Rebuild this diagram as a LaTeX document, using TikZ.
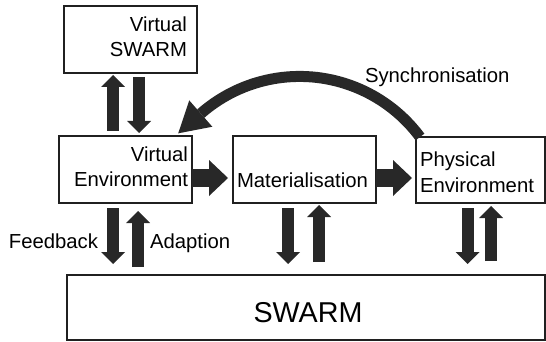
\documentclass[tikz,border=0pt]{standalone}
\usepackage{fontspec}
\setmainfont{Liberation Sans}
\usetikzlibrary{arrows.meta,calc}
\definecolor{ink}{HTML}{202020}
\definecolor{arrowfill}{HTML}{282828}

\begin{document}
\begin{tikzpicture}[x=1pt,y=-1pt,
  box/.style={draw=ink, line width=1.6pt, fill=white, inner sep=0pt, outer sep=0pt},
  lbl/.style={inner sep=0pt, outer sep=0pt, text=black, font=\fontsize{20.3}{25}\selectfont},
  vblock/.style={draw=arrowfill, line width=12pt, -{Triangle[length=12pt,width=24pt,line width=0pt]}},
  hblock/.style={draw=arrowfill, line width=18pt, -{Triangle[length=19pt,width=36pt,line width=0pt]}},
  sync/.style={draw=arrowfill, line width=11pt, shorten >=-30pt, -{Triangle[length=30pt,width=35pt,line width=0pt]}},
]
\useasboundingbox (0,0) rectangle (546,342);

% boxes
\node[box, minimum width=133pt, minimum height=67pt] (vs)    at (130.5,39.5) {};
\node[box, minimum width=133pt, minimum height=67pt] (ve)    at (125.5,169.5) {};
\node[box, minimum width=143pt, minimum height=67pt] (mat)   at (304.5,169.5) {};
\node[box, minimum width=129pt, minimum height=66pt] (phys)  at (480.5,170) {};
\node[box, minimum width=478pt, minimum height=65pt] (swarm) at (306,307.5) {};

% box texts (multi-line nodes are anchored on their last baseline)
\node[lbl, align=right, anchor=base east] (vsT)   at ($(vs.north east)+(-10,51)$) {Virtual\\SWARM};
\node[lbl, align=right, anchor=base east] (veT)   at ($(ve.north east)+(-4,50)$) {Virtual\\Environment};
\node[lbl, anchor=base west]              (matT)  at ($(mat.west)+(4,17.5)$) {Materialisation};
\node[lbl, align=left, anchor=base west]  (physT) at ($(phys.north west)+(4,55)$) {Physical\\Environment};
\node[lbl, anchor=base, font=\fontsize{28.7}{34}\selectfont] (swarmT) at ($(swarm.center)+(2,14.5)$) {SWARM};

% virtual SWARM <-> virtual environment
\draw[vblock] ($(ve.north)+(-12.5,-5)$) -- ($(vs.south)+(-17.5,2)$);
\draw[vblock] ($(vs.south)+(8.5,4)$) -- ($(ve.north)+(13.5,-3)$);

% pipeline
\draw[hblock] ($(ve.east)+(0,8.5)$) -- ($(mat.west)+(-5,8.5)$);
\draw[hblock] ($(mat.east)+(0,8.5)$) -- ($(phys.west)+(-4,8)$);

% links down to the SWARM
\draw[vblock] ($(ve.south)+(-12.5,5)$) -- ($(swarm.north west)+(46,-11)$);
\draw[vblock] ($(swarm.north west)+(71,-8)$) -- ($(ve.south)+(12.5,8)$);
\draw[vblock] ($(mat.south)+(-16.5,5)$) -- ($(swarm.north west)+(221,-11)$);
\draw[vblock] ($(swarm.north west)+(252,-13)$) -- ($(mat.south)+(14.5,2)$);
\draw[vblock] ($(phys.south)+(-13,5)$) -- ($(swarm.north west)+(400.5,-11)$);
\draw[vblock] ($(swarm.north west)+(424,-14)$) -- ($(phys.south)+(10.5,3)$);

\node[lbl, anchor=base east] (fb) at ($(ve.south)+(-27.5,45)$) {Feedback};
\node[lbl, anchor=base west] (ad) at ($(ve.south)+(24.5,45)$) {Adaption};

% synchronisation loop: circular arc from the physical to the virtual environment
\draw[sync] ($(phys.north west)+(4,0)$) arc[start angle=-36.6, end angle=-131.2, radius=150];
\node[lbl, anchor=base west] (syncT) at ($(phys.north west)+(-51,-54)$) {Synchronisation};
\end{tikzpicture}
\end{document}
